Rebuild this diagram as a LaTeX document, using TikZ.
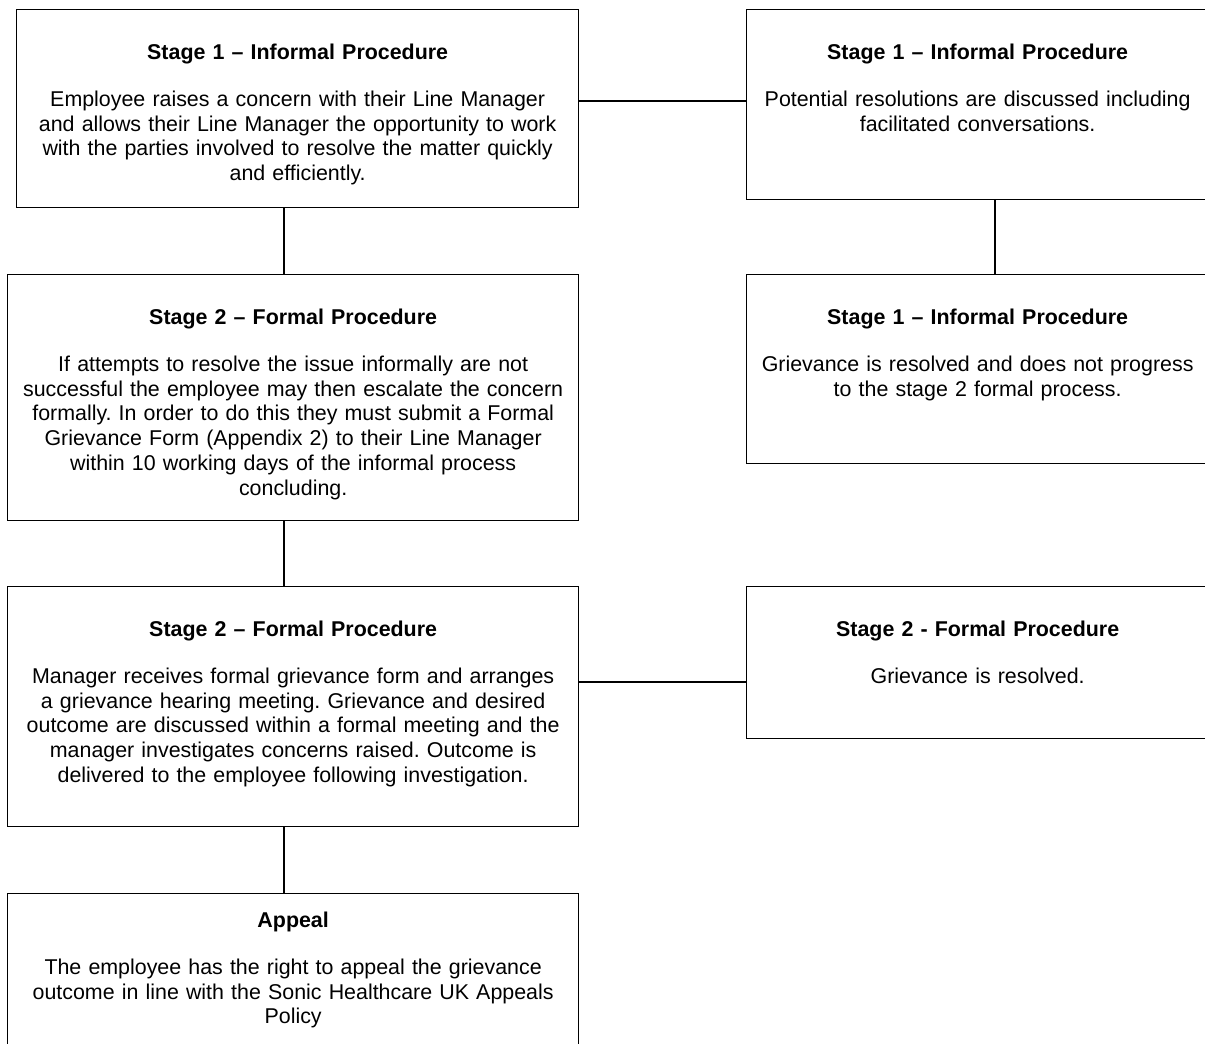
\documentclass[tikz,border=0pt]{standalone}
\usepackage{fontspec}
\setmainfont{Liberation Sans}
\frenchspacing

\tikzset{
  box/.style={draw, line width=1.3pt, inner sep=0pt, anchor=north west},
  boxtext/.style={anchor=base, align=center, text width=#1, inner sep=0pt,
    font=\fontsize{21.4}{24.8}\selectfont},
  boxtext/.default=565pt,
  link/.style={line width=1.3pt},
}

\begin{document}
\begin{tikzpicture}[x=1pt,y=-1pt]
  \path[use as bounding box, fill=white] (0,0) rectangle (1205,1044);
  %
  \node[box, minimum width=562pt, minimum height=198pt] (stage1info) at (16,9) {};
  \node[boxtext] (stage1infotext) at ([yshift=-50.5pt]stage1info.north)
    {\textbf{Stage 1 – Informal Procedure}\\[22pt]
     Employee raises a concern with their Line Manager\\
     and allows their Line Manager the opportunity to work\\
     with the parties involved to resolve the matter quickly\\
     and efficiently.};
  %
  \node[box, minimum width=462pt, minimum height=190pt] (stage1talk) at (746,9) {};
  \node[boxtext=460pt] (stage1talktext) at ([yshift=-50.5pt]stage1talk.north)
    {\textbf{Stage 1 – Informal Procedure}\\[22pt]
     Potential resolutions are discussed including\\
     facilitated conversations.};
  %
  \node[box, minimum width=462pt, minimum height=189pt] (stage1done) at (746,274) {};
  \node[boxtext=460pt] (stage1donetext) at ([yshift=-50.5pt]stage1done.north)
    {\textbf{Stage 1 – Informal Procedure}\\[22pt]
     Grievance is resolved and does not progress\\
     to the stage 2 formal process.};
  %
  \node[box, minimum width=571pt, minimum height=246pt] (stage2form) at (7,274) {};
  \node[boxtext] (stage2formtext) at ([yshift=-50.5pt]stage2form.north)
    {\textbf{Stage 2 – Formal Procedure}\\[22pt]
     If attempts to resolve the issue informally are not\\
     successful the employee may then escalate the concern\\
     formally. In order to do this they must submit a Formal\\
     Grievance Form (Appendix 2) to their Line Manager\\
     within 10 working days of the informal process\\
     concluding.};
  %
  \node[box, minimum width=571pt, minimum height=240pt] (stage2hear) at (7,586) {};
  \node[boxtext] (stage2heartext) at ([yshift=-50.5pt]stage2hear.north)
    {\textbf{Stage 2 – Formal Procedure}\\[22pt]
     Manager receives formal grievance form and arranges\\
     a grievance hearing meeting. Grievance and desired\\
     outcome are discussed within a formal meeting and the\\
     manager investigates concerns raised. Outcome is\\
     delivered to the employee following investigation.};
  %
  \node[box, minimum width=462pt, minimum height=152pt] (stage2done) at (746,586) {};
  \node[boxtext=460pt] (stage2donetext) at ([yshift=-50.5pt]stage2done.north)
    {\textbf{Stage 2 - Formal Procedure}\\[22pt]
     Grievance is resolved.};
  %
  \node[box, minimum width=571pt, minimum height=200pt] (appeal) at (7,893) {};
  \node[boxtext] (appealtext) at ([yshift=-34.5pt]appeal.north)
    {\textbf{Appeal}\\[22pt]
     The employee has the right to appeal the grievance\\
     outcome in line with the Sonic Healthcare UK Appeals\\
     Policy};
  %
  \coordinate (lspine) at (284,0);
  \coordinate (rspine) at (995,0);
  \draw[link] (stage1info.south -| lspine) -- (stage2form.north -| lspine);
  \draw[link] (stage2form.south -| lspine) -- (stage2hear.north -| lspine);
  \draw[link] (stage2hear.south -| lspine) -- (appeal.north -| lspine);
  \draw[link] (stage1talk.south -| rspine) -- (stage1done.north -| rspine);
  \draw[link] ([yshift=-92pt]stage1info.north east) -- ([yshift=-92pt]stage1talk.north west);
  \draw[link] ([yshift=-96pt]stage2hear.north east) -- ([yshift=-96pt]stage2done.north west);
  %
\end{tikzpicture}
\end{document}
